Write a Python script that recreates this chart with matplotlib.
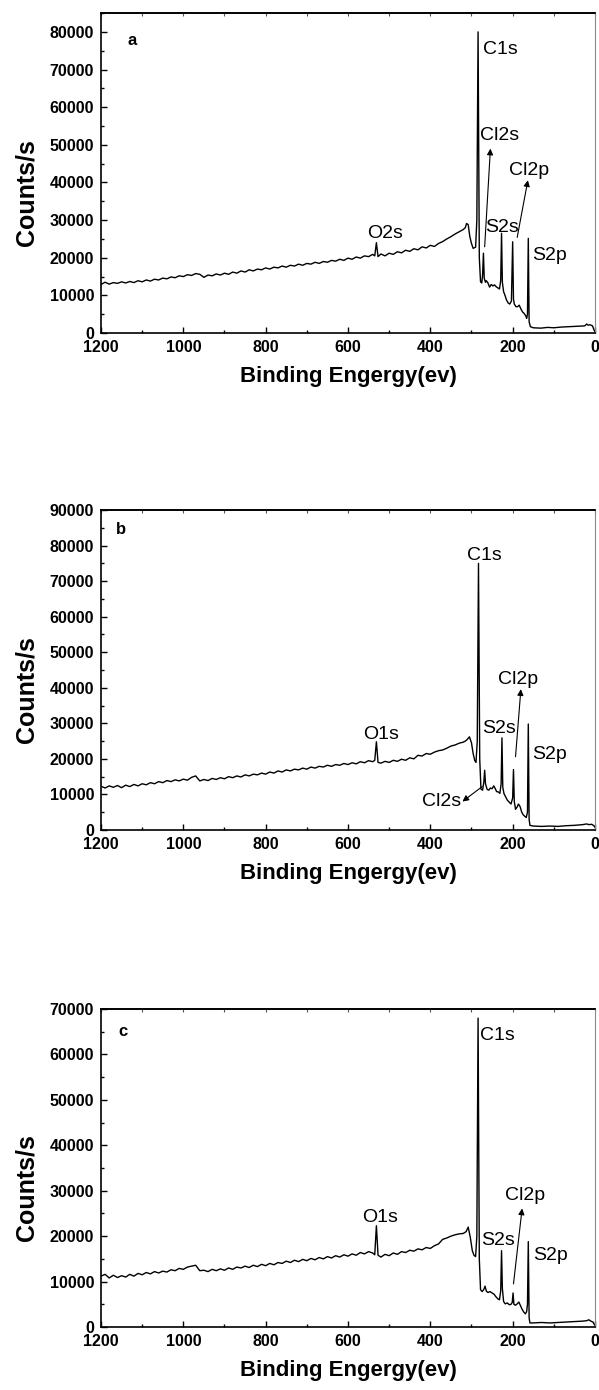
import matplotlib
matplotlib.use('Agg')
import matplotlib.pyplot as plt
from matplotlib.ticker import MultipleLocator

plt.rcParams['font.family'] = ['Liberation Sans', 'DejaVu Sans']

# common energy grid of the sloping background (eV), O peak points included
bg_energy = [1200, 1190, 1180, 1170, 1160, 1150, 1140, 1130, 1120, 1110,
             1100, 1090, 1080, 1070, 1060, 1050, 1040, 1030, 1020, 1010,
             1000, 990, 980, 970, 960, 950, 940, 930, 920, 910,
             900, 890, 880, 870, 860, 850, 840, 830, 820, 810,
             800, 790, 780, 770, 760, 750, 740, 730, 720, 710,
             700, 690, 680, 670, 660, 650, 640, 630, 620, 610,
             600, 590, 580, 570, 560, 550, 540,
             535, 531, 527,
             520, 510, 500, 490, 480, 470, 460, 450, 440, 430,
             420, 410, 400, 390, 380, 370, 360, 350, 340, 330, 320]

a_bg = [12900, 13500, 13000, 13400, 13200, 13600, 13300, 13700, 13400, 13900,
        13600, 14100, 13800, 14300, 14100, 14600, 14400, 14900, 14700, 15200,
        15000, 15500, 15300, 15800, 15600, 14800, 15400, 15200, 15700, 15400,
        15900, 15600, 16200, 15900, 16500, 16200, 16800, 16500, 17000, 16800,
        17300, 17000, 17500, 17300, 17800, 17500, 18000, 17800, 18300, 18000,
        18500, 18300, 18800, 18500, 19000, 18800, 19300, 19100, 19600, 19300,
        19900, 19600, 20200, 19900, 20500, 20300, 20900,
        20500, 24000, 20300,
        21000, 20500, 21200, 20900, 21600, 21300, 22000, 21700, 22400, 22100,
        22900, 22600, 23300, 23000, 23800, 24300, 25000, 25600, 26300, 26900, 27500]

b_bg = [12300, 11800, 12400, 12000, 12500, 11900, 12600, 12200, 12800, 12400,
        13000, 12700, 13300, 13000, 13600, 13300, 13900, 13600, 14100, 13800,
        14300, 14000, 14800, 15200, 13800, 14200, 13900, 14500, 14200, 14700,
        14400, 15000, 14700, 15200, 14900, 15500, 15200, 15700, 15500, 16000,
        15700, 16300, 16000, 16600, 16300, 16900, 16600, 17100, 16900, 17400,
        17100, 17700, 17400, 17900, 17700, 18200, 17900, 18400, 18200, 18700,
        18400, 18900, 18600, 19200, 18900, 19500, 19200,
        19600, 24800, 19000,
        18800, 19300, 19000, 19600, 19300, 19900, 19600, 20300, 20000, 21000,
        20800, 21500, 21300, 21900, 22300, 22500, 23000, 23600, 23900, 24400, 24700]

c_bg = [11200, 11600, 10800, 11400, 10900, 11300, 11000, 11600, 11200, 11800,
        11500, 12000, 11700, 12200, 11900, 12300, 12100, 12600, 12400, 12900,
        12700, 13200, 13400, 13600, 12400, 12500, 12200, 12700, 12400, 12800,
        12500, 13000, 12700, 13200, 13000, 13400, 13100, 13600, 13300, 13800,
        13500, 14000, 13700, 14200, 14000, 14500, 14200, 14700, 14400, 14900,
        14600, 15100, 14800, 15300, 15000, 15500, 15200, 15700, 15400, 15900,
        15600, 16100, 15800, 16400, 16100, 16600, 16300,
        15900, 22300, 15800,
        15400, 16000, 15700, 16300, 16000, 16600, 16400, 16900, 16700, 17200,
        17000, 17500, 17300, 17900, 18300, 19300, 19600, 20000, 20300, 20500, 20600]

# peak region below 320 eV: (energy, counts)
a_tail = [(315, 28000), (312, 29100), (308, 28800), (304, 25600), (300, 23800),
          (296, 22500), (290, 22800), (287, 30000), (284, 80000), (281, 20000),
          (278, 13600), (275, 13300), (273, 15500), (271, 21200), (269, 14500),
          (266, 13500), (264, 13900), (260, 13300), (256, 12200), (252, 12900),
          (248, 12500), (244, 12800), (240, 12300), (236, 12000), (232, 11700),
          (229, 14000), (227, 26500), (225, 13500), (222, 11000), (218, 9800),
          (215, 8800), (211, 8000), (207, 7700), (203, 8500), (200, 24250),
          (198, 9000), (196, 7700), (192, 7000), (188, 7000), (184, 7400),
          (180, 6400), (176, 5600), (172, 5200), (168, 4500), (166, 3900),
          (164, 5000), (162, 25150), (160, 3000), (157, 1700), (150, 1400),
          (132, 1300), (115, 1500), (100, 1400), (80, 1600), (60, 1700),
          (40, 1800), (25, 1900), (20, 2400), (17, 2100), (12, 2200),
          (6, 1900), (2, 700), (0, 400)]

b_tail = [(315, 25000), (310, 25500), (305, 26200), (300, 24500), (296, 21500),
          (292, 19500), (289, 19000), (286, 25000), (283, 75000), (280, 20000),
          (277, 11500), (273, 11200), (270, 13500), (268, 16800), (266, 13000),
          (262, 11400), (258, 11200), (254, 11800), (250, 11600), (246, 12400),
          (243, 11800), (239, 10800), (235, 10700), (231, 10300), (228, 13000),
          (226, 25900), (224, 12000), (221, 10200), (217, 9300), (213, 8400),
          (208, 7800), (204, 7300), (200, 9000), (198, 17000), (196, 8000),
          (193, 5800), (189, 6500), (186, 7300), (182, 6600), (178, 5000),
          (174, 4200), (170, 3800), (167, 3500), (164, 5000), (162, 29800),
          (160, 3000), (158, 1300), (150, 1100), (130, 1000), (110, 1100),
          (90, 1000), (70, 1200), (50, 1300), (30, 1500), (20, 1700),
          (15, 1500), (8, 1600), (3, 1200), (0, 800)]

c_tail = [(313, 21000), (308, 22000), (303, 19800), (298, 16800), (294, 15800),
          (290, 15500), (287, 20000), (284, 68000), (281, 15000), (278, 8200),
          (274, 7800), (270, 8300), (267, 9000), (264, 7900), (260, 7600),
          (255, 7800), (250, 7500), (245, 7200), (241, 6700), (236, 6200),
          (232, 6000), (229, 8000), (227, 16800), (225, 8500), (222, 5600),
          (218, 5100), (213, 5300), (208, 4900), (204, 5000), (201, 5400),
          (199, 7500), (197, 5000), (193, 4800), (189, 5100), (185, 5500),
          (181, 4700), (177, 3900), (173, 3300), (169, 2900), (166, 3400),
          (164, 5000), (162, 18800), (160, 2000), (158, 900), (150, 900),
          (130, 1000), (110, 900), (90, 1000), (70, 1100), (50, 1200),
          (30, 1300), (20, 1400), (15, 1600), (10, 1300), (5, 1100),
          (2, 600), (0, 400)]

# peak labels: (text, energy, counts, ha)
a_labels = [('C1s', 273, 75300, 'left'), ('Cl2s', 279, 52600, 'left'),
            ('Cl2p', 210, 43100, 'left'), ('S2s', 268, 28000, 'left'),
            ('S2p', 153, 20700, 'left'), ('O2s', 510, 26500, 'center')]
b_labels = [('C1s', 269, 77300, 'center'), ('O1s', 520, 26900, 'center'),
            ('S2s', 274, 28600, 'left'), ('Cl2p', 236, 42200, 'left'),
            ('S2p', 153, 21100, 'left'), ('Cl2s', 324, 8000, 'right')]
c_labels = [('C1s', 279, 64100, 'left'), ('O1s', 522, 24000, 'center'),
            ('S2s', 277, 19000, 'left'), ('Cl2p', 218, 29000, 'left'),
            ('S2p', 151, 15850, 'left')]

# arrows: (tail energy, tail counts, head energy, head counts)
a_arrows = [(268, 22900, 254, 49000), (189, 25400, 163, 40600)]
b_arrows = [(193, 20600, 180, 39600), (274, 12200, 322, 8000)]
c_arrows = [(198, 9500, 177, 26100)]

panels = [
    ('a', a_bg, a_tail, a_labels, a_arrows, 85000, [0.1686, 0.7604, 0.8247, 0.2302], (0.063, 0.913)),
    ('b', b_bg, b_tail, b_labels, b_arrows, 90000, [0.1686, 0.4029, 0.8247, 0.2302], (0.041, 0.9375)),
    ('c', c_bg, c_tail, c_labels, c_arrows, 70000, [0.1686, 0.0453, 0.8247, 0.2288], (0.044, 0.929)),
]

fig = plt.figure(figsize=(5.99, 13.9), dpi=100)

for tag, bg, tail, labels, arrows, ytop, pos, tagpos in panels:
    ax = fig.add_axes(pos)
    tail_e = [p[0] for p in tail]
    tail_c = [p[1] for p in tail]
    ax.plot(bg_energy + tail_e, bg + tail_c, color='black', lw=1.0)

    ax.set_xlim(1200, 0)
    ax.set_ylim(0, ytop)
    ax.xaxis.set_major_locator(MultipleLocator(200))
    ax.xaxis.set_minor_locator(MultipleLocator(100))
    ax.yaxis.set_major_locator(MultipleLocator(10000))
    ax.yaxis.set_minor_locator(MultipleLocator(5000))
    ax.tick_params(which='both', direction='in', width=1.0, pad=5)
    ax.tick_params(which='major', length=4.5, labelsize=11.5)
    ax.tick_params(which='minor', length=2.5)
    for lab in ax.get_xticklabels() + ax.get_yticklabels():
        lab.set_fontweight('bold')

    for side in ['left', 'bottom', 'top']:
        ax.spines[side].set_linewidth(1.2)
    ax.spines['right'].set_color('#8a8a8a')
    ax.spines['right'].set_linewidth(0.8)

    top = ax.secondary_xaxis('top')
    top.set_xticks(list(range(0, 1201, 100)))
    top.tick_params(direction='in', length=2, width=0.8, labeltop=False, color='#555555')
    top.spines['top'].set_linewidth(1.2)

    ax.set_xlabel('Binding Engergy(ev)', fontsize=16, fontweight='bold', labelpad=8)
    ax.set_ylabel('Counts/s', fontsize=18, fontweight='bold')
    ax.yaxis.set_label_coords(-0.1275, 0.44)

    ax.text(tagpos[0], tagpos[1], tag, transform=ax.transAxes,
            fontsize=12, fontweight='bold', ha='center', va='center')

    for txt, e, cnt, ha in labels:
        ax.text(e, cnt, txt, fontsize=14, ha=ha, va='center')

    for e0, c0, e1, c1 in arrows:
        ax.annotate('', xy=(e1, c1), xytext=(e0, c0),
                    arrowprops=dict(arrowstyle='-|>', color='black', lw=0.8,
                                    mutation_scale=9, shrinkA=0, shrinkB=0))

fig.savefig('out.png', dpi=100)
